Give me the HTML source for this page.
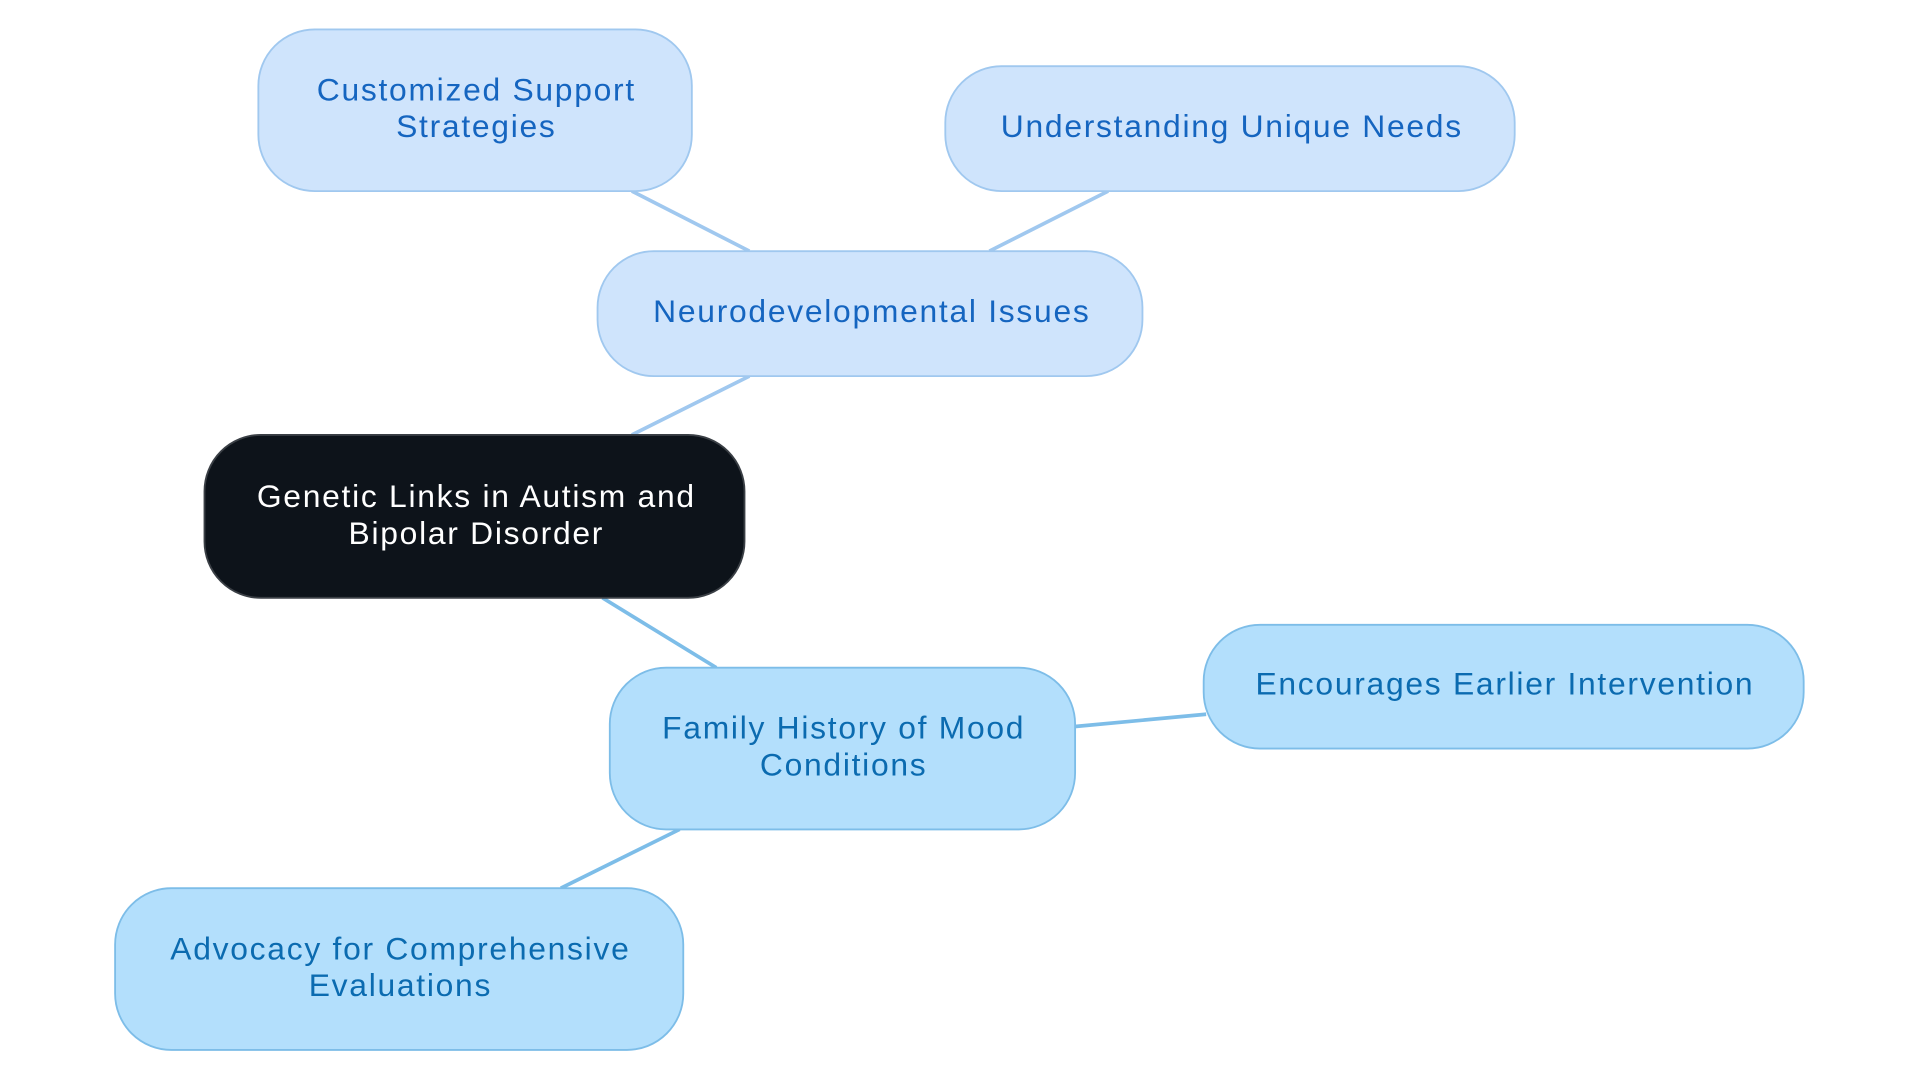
<!DOCTYPE html>
<html><head><meta charset="utf-8"><style>
html,body{margin:0;padding:0;background:#fff;width:1920px;height:1083px;overflow:hidden}
svg{display:block}
text{font-family:"Liberation Sans",sans-serif;font-size:26px;letter-spacing:1.4px;text-anchor:middle}
</style></head><body>
<svg width="1920" height="1083" viewBox="0 0 1568 884" preserveAspectRatio="none">
<g stroke-width="3" fill="none">
<line x1="516" y1="156" x2="612" y2="205" stroke="#a0c8ef"/>
<line x1="905" y1="156" x2="808" y2="205" stroke="#a0c8ef"/>
<line x1="612" y1="307" x2="516" y2="355" stroke="#a0c8ef"/>
<line x1="492" y1="488" x2="585" y2="545" stroke="#7dbde8"/>
<line x1="878" y1="593" x2="985" y2="583" stroke="#7dbde8"/>
<line x1="555" y1="677" x2="458" y2="725" stroke="#7dbde8"/>
</g>
<g stroke-width="1.5">
<rect x="211" y="24" width="354" height="132" rx="46" fill="#cfe4fc" stroke="#a0c8ef"/>
<rect x="772" y="54" width="465" height="102" rx="46" fill="#cfe4fc" stroke="#a0c8ef"/>
<rect x="488" y="205" width="445" height="102" rx="46" fill="#cfe4fc" stroke="#a0c8ef"/>
<rect x="167" y="355" width="441" height="133" rx="46" fill="#0d131a" stroke="#3a3f45"/>
<rect x="498" y="545" width="380" height="132" rx="46" fill="#b3dffc" stroke="#7dbde8"/>
<rect x="983" y="510" width="490" height="101" rx="46" fill="#b3dffc" stroke="#7dbde8"/>
<rect x="94" y="725" width="464" height="132" rx="46" fill="#b3dffc" stroke="#7dbde8"/>
</g>
<g fill="#1565c0">
<text x="389" y="82">Customized Support</text>
<text x="389" y="112">Strategies</text>
<text x="1006" y="112">Understanding Unique Needs</text>
<text x="712" y="263">Neurodevelopmental Issues</text>
</g>
<g fill="#ffffff">
<text x="389" y="414">Genetic Links in Autism and</text>
<text x="389" y="444">Bipolar Disorder</text>
</g>
<g fill="#0b6bb0">
<text x="689" y="603">Family History of Mood</text>
<text x="689" y="633">Conditions</text>
<text x="1229" y="567">Encourages Earlier Intervention</text>
<text x="327" y="783">Advocacy for Comprehensive</text>
<text x="327" y="813">Evaluations</text>
</g>
</svg>
</body></html>
